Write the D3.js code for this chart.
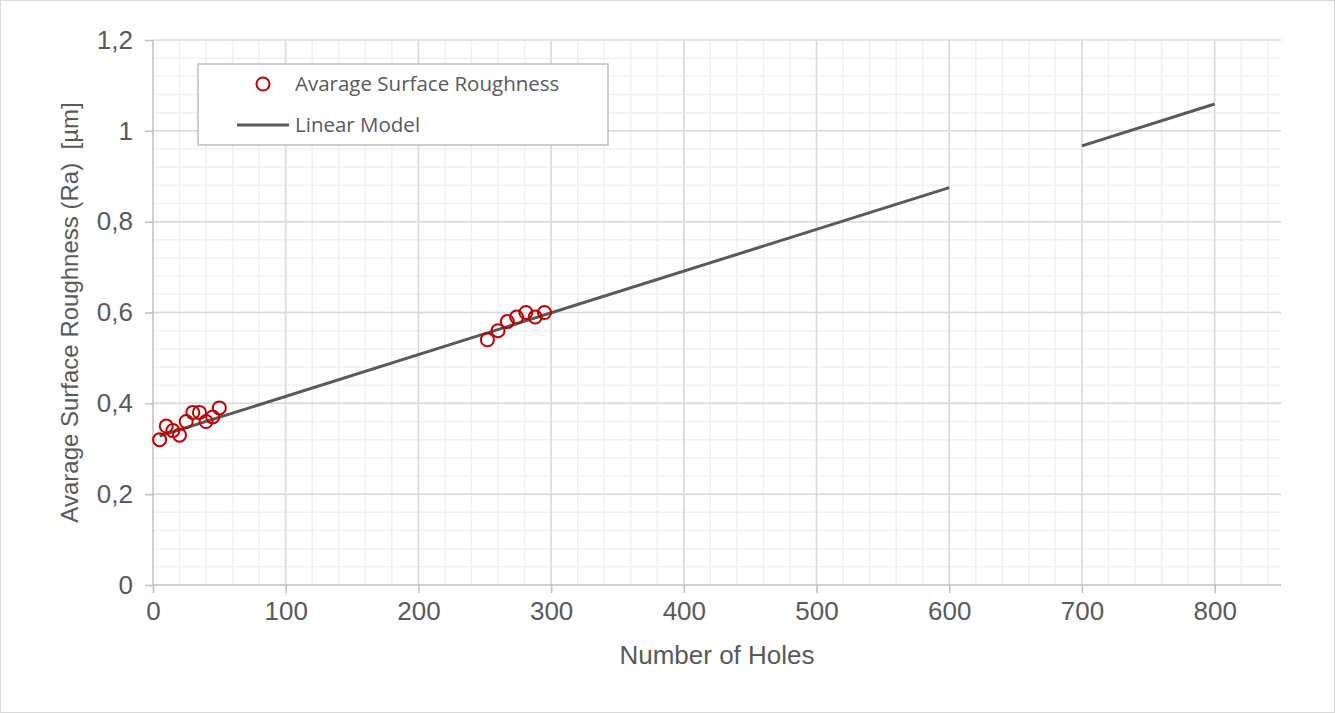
<!DOCTYPE html>
<html>
<head>
<meta charset="utf-8">
<script src="https://cdn.jsdelivr.net/npm/d3@7"></script>
<style>
  body { margin: 0; background: #fff; }
  svg { display: block; }
</style>
</head>
<body>
<svg id="chart" width="1335" height="713"></svg>
<script>
// measured data
var holes = [5, 10, 15, 20, 25, 30, 35, 40, 45, 50, 252, 260, 267, 274, 281, 288, 295];
var roughness = [0.32, 0.35, 0.34, 0.33, 0.36, 0.38, 0.38, 0.36, 0.37, 0.39, 0.54, 0.56, 0.58, 0.59, 0.60, 0.59, 0.60];
var modelSeg1 = [[5, 0.328], [600, 0.875]];
var modelSeg2 = [[700, 0.967], [800, 1.059]];
var xTicks = [0, 100, 200, 300, 400, 500, 600, 700, 800];
var yTicks = [0, 0.2, 0.4, 0.6, 0.8, 1, 1.2];

var svg = d3.select("#chart"),
  margin = { top: 40, right: 54, bottom: 128, left: 153 },
  width = +svg.attr("width") - margin.left - margin.right,
  height = +svg.attr("height") - margin.top - margin.bottom;

var textColor = "#595959";
var axisFont = "'Liberation Sans', Arial, sans-serif";

svg.append("rect")
  .attr("x", 0.5).attr("y", 0.5)
  .attr("width", 1334).attr("height", 712)
  .attr("fill", "#fff").attr("stroke", "#d9d9d9");

var x = d3.scaleLinear().domain([0, 850]).range([0, width]),
  y = d3.scaleLinear().domain([0, 1.2]).range([height, 0]);

var g = svg.append("g")
  .attr("transform", "translate(" + margin.left + "," + margin.top + ")");

// minor grid
g.append("g").selectAll("line")
  .data(d3.range(20, 850, 20))
  .enter().append("line")
  .attr("x1", function (d) { return x(d); }).attr("x2", function (d) { return x(d); })
  .attr("y1", 0).attr("y2", height)
  .attr("stroke", "#f0f0f0").attr("stroke-width", 1.5);

g.append("g").selectAll("line")
  .data(d3.range(0.04, 1.2, 0.04))
  .enter().append("line")
  .attr("x1", 0).attr("x2", width)
  .attr("y1", function (d) { return y(d); }).attr("y2", function (d) { return y(d); })
  .attr("stroke", "#f0f0f0").attr("stroke-width", 1.5);

// major grid
g.append("g").selectAll("line")
  .data(xTicks.slice(1))
  .enter().append("line")
  .attr("x1", function (d) { return x(d); }).attr("x2", function (d) { return x(d); })
  .attr("y1", 0).attr("y2", height)
  .attr("stroke", "#d9d9d9").attr("stroke-width", 1.5);

g.append("g").selectAll("line")
  .data(yTicks.slice(1))
  .enter().append("line")
  .attr("x1", 0).attr("x2", width)
  .attr("y1", function (d) { return y(d); }).attr("y2", function (d) { return y(d); })
  .attr("stroke", "#d9d9d9").attr("stroke-width", 1.5);

// axes
var fmt = function (d) { return String(d).replace(".", ","); };

var xAxis = g.append("g")
  .attr("transform", "translate(0," + height + ")")
  .call(d3.axisBottom(x).tickValues(xTicks).tickSize(8).tickPadding(9));

var yAxis = g.append("g")
  .call(d3.axisLeft(y).tickValues(yTicks).tickFormat(fmt).tickSize(8).tickPadding(12));

[xAxis, yAxis].forEach(function (a) {
  a.select(".domain").attr("stroke", "#bfbfbf").attr("stroke-width", 1.5);
  a.selectAll(".tick line").attr("stroke", "#bfbfbf").attr("stroke-width", 1.5);
  a.selectAll(".tick text")
    .attr("fill", textColor)
    .style("font-family", axisFont)
    .style("font-size", "26px");
});
yAxis.select(".domain").attr("d", "M0," + height + "V0");
xAxis.select(".domain").attr("d", "M0,0H" + width);

// model lines
var line = d3.line()
  .x(function (d) { return x(d[0]); })
  .y(function (d) { return y(d[1]); });

[modelSeg1, modelSeg2].forEach(function (seg) {
  g.append("path")
    .datum(seg)
    .attr("d", line)
    .attr("fill", "none")
    .attr("stroke", "#595959")
    .attr("stroke-width", 3);
});

// points
g.selectAll(".pt")
  .data(holes)
  .enter().append("circle")
  .attr("class", "pt")
  .attr("cx", function (d) { return x(d); })
  .attr("cy", function (d, i) { return y(roughness[i]); })
  .attr("r", 6.5)
  .attr("fill", "none")
  .attr("stroke", "#c00000")
  .attr("stroke-width", 2);

// axis titles
svg.append("text")
  .attr("x", margin.left + x(425))
  .attr("y", 664)
  .attr("text-anchor", "middle")
  .attr("fill", textColor)
  .style("font-family", axisFont)
  .style("font-size", "26px")
  .text("Number of Holes");

svg.append("text")
  .attr("transform", "translate(78," + (margin.top + y(0.6)) + ") rotate(-90)")
  .attr("text-anchor", "middle")
  .attr("fill", textColor)
  .style("font-family", axisFont)
  .style("font-size", "24px")
  .style("white-space", "pre")
  .text("Avarage Surface Roughness (Ra)  [µm]");

// legend
var legend = svg.append("g").attr("transform", "translate(198,64)");
legend.append("rect")
  .attr("width", 410).attr("height", 81)
  .attr("fill", "#fff").attr("stroke", "#bfbfbf").attr("stroke-width", 1.5);
legend.append("circle")
  .attr("cx", 65).attr("cy", 20).attr("r", 6.5)
  .attr("fill", "none").attr("stroke", "#c00000").attr("stroke-width", 2);
legend.append("line")
  .attr("x1", 39).attr("x2", 91).attr("y1", 61).attr("y2", 61)
  .attr("stroke", "#595959").attr("stroke-width", 3);
legend.selectAll(".lt")
  .data(["Avarage Surface Roughness", "Linear Model"])
  .enter().append("text")
  .attr("x", 97)
  .attr("y", function (d, i) { return 27 + i * 41; })
  .attr("fill", textColor)
  .style("font-family", "'Open Sans', sans-serif")
  .style("font-size", "20.5px")
  .text(function (d) { return d; });
</script>
</body>
</html>
